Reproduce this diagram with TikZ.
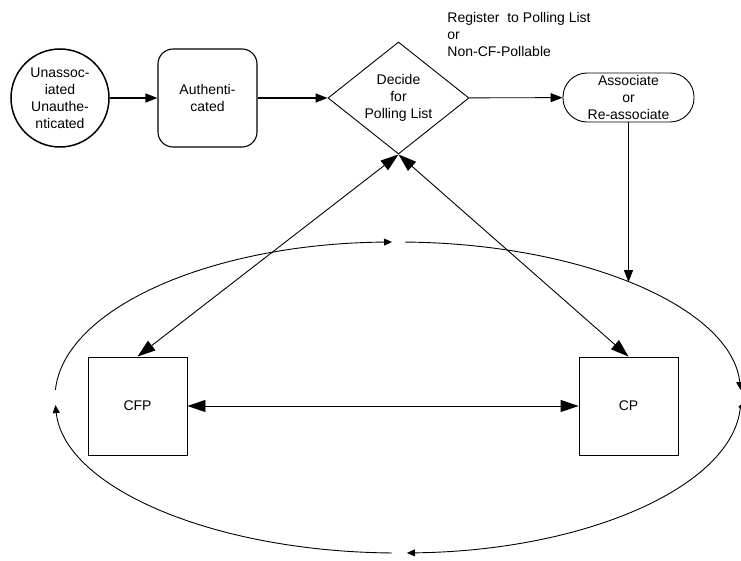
\documentclass[tikz,border=0pt]{standalone}
\usepackage{amsmath}
\usepackage{fontspec}
\setmainfont{Liberation Sans}
\usetikzlibrary{shapes.geometric,arrows.meta}
\begin{document}
\begin{tikzpicture}[x=1pt,y=1pt,line width=0.9pt,font=\fontsize{14}{17}\selectfont,
  >={Triangle[length=8pt,width=7pt]},
  box/.style={draw,align=center,minimum width=99pt,minimum height=98pt},
  head/.style={-{Triangle[length=12pt,width=9pt]}},
  bighead/.style={{Triangle[length=18pt,width=12pt]}-{Triangle[length=18pt,width=12pt]}}]
\tikzstyle{every node}+=[inner sep=0pt]
\useasboundingbox (0,0) rectangle (741,-561);
\node [draw,circle,line width=1.5pt,minimum size=98pt,align=center] (unauth) at (60,-98) {Unassoc-\\iated\\Unauthe-\\nticated};
\node [box,rounded corners=15pt,line width=1.1pt] (auth) at (207.5,-98) {Authenti-\\cated};
\node [draw,diamond,aspect=1.26,minimum width=141pt,minimum height=112pt,align=center] (decide) at (398.5,-98) {Decide\\for\\Polling List};
\node [draw,rounded corners=24pt,minimum width=131pt,minimum height=49pt,align=center] (assoc) at (628.5,-97.5) {Associate\\or\\Re-associate};
\node [anchor=north west,align=left] (reg) at (447,-12) {Register\ \ to Polling List\\or\\Non-CF-Pollable};
\node [box] (cfp) at (137.5,-406) {CFP};
\node [box] (cp) at (628.5,-406) {CP};
\coordinate (ring) at (398,-397.5);
\coordinate (hit) at ([shift={(47.9:343pt and 155.5pt)}]ring);
\draw [head,line width=1.3pt] (unauth) -- (auth);
\draw [head,line width=1.3pt] (auth) -- (decide);
\draw [head] (decide) -- (assoc);
\draw [head] (assoc.south) -- (assoc.south |- hit);
\draw [bighead] (cfp.north) -- (decide.south);
\draw [bighead] (decide.south) -- (cp.north);
\draw [bighead] (cfp) -- (cp);
\draw [->] ([shift={(177.2:343pt and 155.5pt)}]ring) arc [start angle=177.2,end angle=91,x radius=343pt,y radius=155.5pt];
\draw [->] ([shift={(88.8:343pt and 155.5pt)}]ring) arc [start angle=88.8,end angle=2.8,x radius=343pt,y radius=155.5pt];
\draw [{Circle[length=3.5pt]}->] ([shift={(-2.8:343pt and 155.5pt)}]ring) arc [start angle=-2.8,end angle=-88.5,x radius=343pt,y radius=155.5pt];
\draw [->] ([shift={(-91:343pt and 155.5pt)}]ring) arc [start angle=-91,end angle=-177.2,x radius=343pt,y radius=155.5pt];
\end{tikzpicture}
\end{document}
